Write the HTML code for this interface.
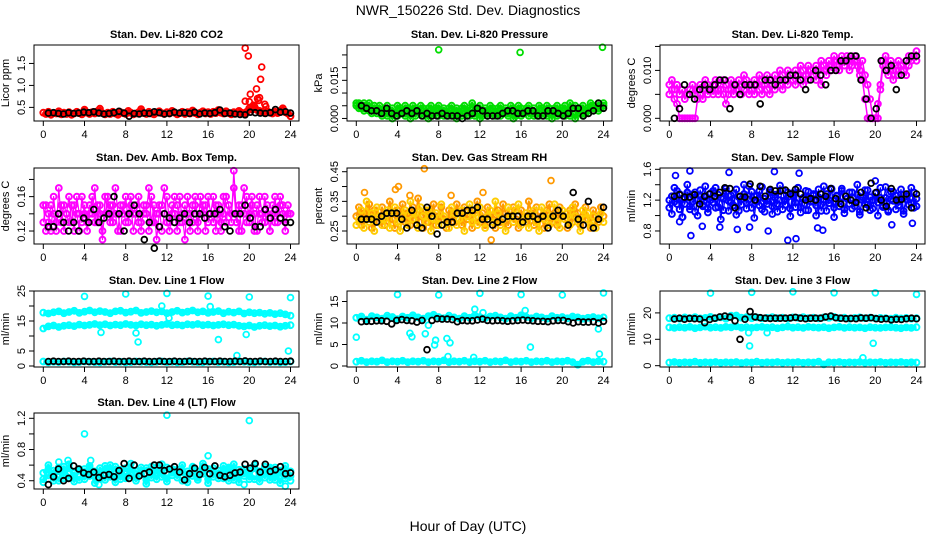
<!DOCTYPE html>
<html><head><meta charset="utf-8"><style>
body{margin:0;background:#fff;}
svg{display:block;font-family:"Liberation Sans",sans-serif;}
</style></head><body>
<svg id="chart" width="936" height="540" viewBox="0 0 936 540">
<text x="468" y="15" text-anchor="middle" font-size="14">NWR_150226  Std. Dev. Diagnostics</text>
<text x="468" y="531" text-anchor="middle" font-size="14">Hour of Day (UTC)</text>
</svg>
<script>
const xTicks = [0,4,8,12,16,20,24];

const co2Red = [0.38,0.35,0.40,0.33,0.37,0.36,0.41,0.34,0.38,0.35,0.39,0.33,0.36,0.40,0.37,0.34,0.45,0.38,0.35,0.39,0.36,0.41,0.47,0.37,0.34,0.38,0.35,0.40,0.36,0.33,0.39,0.37,0.35,0.42,0.38,0.34,0.36,0.39,0.46,0.37,0.35,0.40,0.36,0.34,0.38,0.41,0.37,0.35,0.39,0.36,0.42,0.38,0.34,0.37,0.40,0.35,0.39,0.36,0.43,0.37,0.34,0.38,0.41,0.36,0.39,0.35,0.40,0.37,0.44,0.38,0.36,0.41,0.37,0.34,0.39,0.36,0.42,0.38,0.35,0.40,0.48,0.45,0.52,0.44,0.42,0.39,0.37,0.41,0.38,0.36,0.40,0.37,0.42,0.48,0.39,0.36,0.30];
const co2SpikeX = [19.6,19.9,20.1,20.0,19.6,20.4,20.7,20.8,21.0,21.2,21.1,21.5,20.5,20.9,21.6];
const co2SpikeY = [1.85,1.67,0.80,0.63,0.64,0.55,0.92,0.70,0.72,1.42,1.14,0.57,0.48,0.66,0.52];
const co2Black = [0.37,0.38,0.36,0.35,0.38,0.36,0.37,0.39,0.38,0.40,0.37,0.35,0.36,0.38,0.41,0.37,0.30,0.36,0.35,0.37,0.36,0.40,0.38,0.35,0.36,0.39,0.37,0.38,0.36,0.39,0.35,0.37,0.36,0.38,0.44,0.36,0.37,0.35,0.34,0.33,0.39,0.38,0.37,0.36,0.38,0.45,0.39,0.40,0.37];

const presGreenA = [0.006,0.006,0.005,0.006,0.005,0.006,0.004,0.005,0.004,0.005,0.003,0.004,0.005,0.003,0.004,0.002,0.005,0.004,0.003,0.005,0.004,0.003,0.005,0.004,0.003,0.005,0.004,0.002,0.004,0.005,0.003,0.004,0.005,0.003,0.004,0.002,0.004,0.005,0.003,0.004,0.002,0.004,0.005,0.003,0.004,0.006,0.003,0.004,0.005,0.002,0.004,0.003,0.005,0.004,0.002,0.004,0.005,0.003,0.004,0.002,0.005,0.004,0.003,0.005,0.004,0.002,0.004,0.005,0.003,0.004,0.002,0.005,0.004,0.003,0.005,0.004,0.002,0.004,0.005,0.003,0.004,0.005,0.003,0.006,0.004,0.005,0.003,0.004,0.005,0.003,0.004,0.006,0.005,0.004,0.006,0.005,0.006];
const presGreenB = [0.005,0.004,0.004,0.003,0.004,0.003,0.002,0.003,0.002,0.003,0.001,0.002,0.001,0.002,0.000,0.002,0.001,0.003,0.002,0.001,0.002,0.000,0.002,0.001,0.003,0.002,0.001,0.002,0.000,0.001,0.002,0.003,0.001,0.002,0.001,0.002,0.001,0.003,0.001,0.000,0.002,0.001,0.002,0.003,0.001,0.002,0.001,0.002,0.000,0.001,0.002,0.001,0.003,0.002,0.001,0.002,0.001,0.002,0.003,0.001,0.002,0.000,0.001,0.002,0.001,0.002,0.003,0.001,0.002,0.001,0.002,0.001,0.003,0.002,0.001,0.002,0.000,0.002,0.001,0.003,0.002,0.001,0.002,0.001,0.002,0.000,0.003,0.002,0.001,0.002,0.003,0.004,0.003,0.004,0.003,0.004,0.005];
const presOutX = [8.0,15.9,23.9];
const presOutY = [0.027,0.026,0.028];
const presBlack = [0.005,0.004,0.003,0.003,0.002,0.004,0.002,0.001,0.002,0.003,0.002,0.003,0.001,0.002,0.001,0.001,0.002,0.001,0.001,0.001,0.000,0.001,0.002,0.004,0.003,0.001,0.001,0.001,0.002,0.003,0.003,0.002,0.002,0.003,0.003,0.001,0.001,0.003,0.003,0.002,0.001,0.002,0.004,0.004,0.001,0.002,0.003,0.006,0.004];

const tempMagA = [0.007,0.008,0.006,0.007,0.005,0.006,0.004,0.005,0.006,0.007,0.005,0.006,0.007,0.006,0.008,0.007,0.006,0.007,0.008,0.006,0.007,0.008,0.007,0.006,0.008,0.007,0.006,0.008,0.007,0.009,0.008,0.007,0.006,0.008,0.007,0.009,0.008,0.007,0.009,0.008,0.007,0.009,0.008,0.010,0.009,0.008,0.010,0.009,0.008,0.010,0.009,0.011,0.010,0.009,0.011,0.010,0.009,0.011,0.010,0.012,0.011,0.010,0.012,0.011,0.013,0.012,0.011,0.013,0.012,0.013,0.012,0.011,0.013,0.012,0.010,0.012,0.009,0.007,0.004,0.000,0.000,0.000,0.007,0.012,0.013,0.011,0.012,0.010,0.011,0.012,0.011,0.010,0.012,0.013,0.012,0.013,0.014];
const tempMagB = [0.005,0.006,0.004,0.003,0.000,0.000,0.000,0.000,0.000,0.000,0.000,0.004,0.005,0.004,0.006,0.005,0.006,0.005,0.006,0.005,0.006,0.005,0.003,0.005,0.006,0.005,0.007,0.006,0.005,0.006,0.007,0.005,0.006,0.005,0.007,0.006,0.005,0.007,0.006,0.005,0.007,0.006,0.008,0.007,0.006,0.008,0.007,0.009,0.008,0.007,0.009,0.008,0.007,0.009,0.008,0.010,0.009,0.008,0.010,0.007,0.010,0.009,0.011,0.010,0.012,0.011,0.010,0.012,0.011,0.012,0.010,0.011,0.012,0.011,0.009,0.008,0.004,0.000,0.000,0.000,0.000,0.003,0.006,0.011,0.010,0.009,0.010,0.008,0.010,0.009,0.011,0.010,0.009,0.011,0.012,0.013,0.012];
const tempBlack = [0.000,0.002,0.007,0.005,0.004,0.006,0.007,0.006,0.007,0.008,0.008,0.002,0.007,0.005,0.007,0.007,0.007,0.003,0.008,0.008,0.007,0.008,0.008,0.009,0.009,0.008,0.006,0.008,0.010,0.009,0.007,0.010,0.010,0.012,0.012,0.013,0.013,0.008,0.004,0.000,0.002,0.012,0.010,0.011,0.006,0.009,0.012,0.013,0.013];

const ambMagA = [0.13,0.15,0.14,0.12,0.16,0.13,0.14,0.15,0.12,0.14,0.16,0.13,0.15,0.14,0.12,0.16,0.14,0.13,0.15,0.14,0.17,0.13,0.15,0.12,0.14,0.16,0.13,0.15,0.14,0.12,0.15,0.14,0.16,0.13,0.15,0.12,0.14,0.16,0.13,0.14,0.15,0.12,0.16,0.13,0.14,0.15,0.12,0.14,0.16,0.13,0.15,0.14,0.12,0.16,0.13,0.15,0.14,0.12,0.15,0.16,0.13,0.14,0.15,0.12,0.16,0.14,0.13,0.15,0.14,0.12,0.16,0.13,0.15,0.14,0.17,0.13,0.15,0.12,0.14,0.16,0.13,0.15,0.14,0.12,0.16,0.14,0.13,0.15,0.12,0.14,0.16,0.13,0.15,0.14,0.12,0.15,0.14];
const ambMagB = [0.15,0.12,0.13,0.15,0.14,0.12,0.17,0.13,0.15,0.14,0.13,0.15,0.12,0.16,0.14,0.13,0.15,0.12,0.14,0.16,0.13,0.15,0.14,0.11,0.16,0.14,0.15,0.13,0.17,0.14,0.12,0.15,0.13,0.14,0.16,0.14,0.15,0.13,0.12,0.15,0.14,0.17,0.13,0.15,0.11,0.14,0.15,0.17,0.13,0.12,0.14,0.16,0.15,0.13,0.14,0.11,0.16,0.14,0.13,0.15,0.12,0.16,0.14,0.15,0.13,0.14,0.16,0.12,0.15,0.13,0.14,0.16,0.15,0.13,0.19,0.14,0.12,0.15,0.17,0.13,0.14,0.16,0.12,0.15,0.14,0.13,0.16,0.14,0.12,0.15,0.13,0.14,0.16,0.15,0.13,0.14,0.14];
const ambBlack = [0.125,0.125,0.14,0.13,0.12,0.13,0.12,0.135,0.13,0.145,0.13,0.135,0.14,0.16,0.14,0.12,0.14,0.15,0.14,0.11,0.13,0.10,0.125,0.14,0.135,0.13,0.135,0.14,0.13,0.14,0.14,0.135,0.14,0.14,0.145,0.125,0.12,0.14,0.14,0.15,0.135,0.125,0.125,0.145,0.135,0.145,0.135,0.13,0.13];

const rhOrangeA = [0.30,0.33,0.27,0.31,0.29,0.34,0.26,0.32,0.30,0.28,0.33,0.27,0.31,0.35,0.29,0.26,0.32,0.30,0.34,0.28,0.31,0.27,0.33,0.29,0.36,0.30,0.26,0.32,0.28,0.31,0.34,0.27,0.30,0.33,0.29,0.26,0.32,0.30,0.28,0.34,0.31,0.27,0.33,0.29,0.30,0.26,0.32,0.35,0.28,0.31,0.27,0.33,0.30,0.29,0.26,0.32,0.28,0.34,0.31,0.27,0.30,0.33,0.29,0.26,0.32,0.30,0.28,0.35,0.31,0.27,0.33,0.29,0.30,0.26,0.32,0.34,0.28,0.31,0.27,0.33,0.30,0.29,0.26,0.32,0.28,0.34,0.31,0.27,0.30,0.33,0.29,0.26,0.32,0.30,0.28,0.33,0.30];
const rhOrangeB = [0.27,0.29,0.32,0.26,0.35,0.28,0.31,0.25,0.33,0.30,0.27,0.29,0.32,0.26,0.31,0.33,0.28,0.25,0.30,0.32,0.27,0.35,0.29,0.31,0.26,0.33,0.30,0.28,0.32,0.25,0.29,0.31,0.27,0.34,0.30,0.28,0.26,0.33,0.31,0.27,0.29,0.32,0.25,0.30,0.34,0.28,0.31,0.27,0.33,0.29,0.26,0.30,0.32,0.28,0.35,0.31,0.27,0.29,0.25,0.33,0.30,0.28,0.32,0.34,0.27,0.29,0.31,0.26,0.30,0.32,0.28,0.25,0.33,0.29,0.31,0.27,0.30,0.34,0.28,0.26,0.32,0.29,0.31,0.27,0.33,0.30,0.28,0.25,0.32,0.29,0.31,0.27,0.30,0.26,0.29,0.31,0.28];
const rhOutX = [0.8,3.8,4.1,6.6,9.2,13.1,18.9,12.3,5.2];
const rhOutY = [0.38,0.39,0.40,0.46,0.37,0.22,0.42,0.38,0.37];
const rhBlack = [0.29,0.29,0.29,0.28,0.30,0.31,0.31,0.31,0.29,0.26,0.32,0.27,0.26,0.33,0.30,0.24,0.27,0.28,0.28,0.31,0.31,0.32,0.32,0.33,0.29,0.29,0.27,0.28,0.29,0.30,0.30,0.30,0.28,0.30,0.30,0.29,0.30,0.26,0.30,0.32,0.30,0.27,0.38,0.29,0.27,0.35,0.26,0.29,0.33];

const flowBlueA = [1.10,1.25,1.18,1.32,1.08,1.22,1.15,1.30,1.12,1.27,1.05,1.20,1.33,1.14,1.24,1.09,1.29,1.17,1.36,1.11,1.23,1.07,1.31,1.19,1.26,1.13,1.34,1.06,1.21,1.28,1.16,1.38,1.10,1.25,1.18,1.32,1.08,1.22,1.15,1.30,1.12,1.27,1.05,1.20,1.33,1.14,1.24,1.09,1.29,1.17,1.36,1.11,1.23,1.07,1.31,1.19,1.26,1.13,1.34,1.06,1.21,1.28,1.16,1.35,1.10,1.25,1.18,1.32,1.08,1.22,1.15,1.30,1.12,1.27,1.05,1.20,1.33,1.14,1.24,1.09,1.29,1.17,1.36,1.11,1.23,1.07,1.31,1.19,1.26,1.13,1.34,1.06,1.21,1.28,1.16,1.30,1.12];
const flowBlueB = [1.20,1.02,1.36,1.15,1.28,0.98,1.22,1.40,1.08,1.18,1.30,1.00,1.25,1.12,1.38,1.04,1.20,1.32,1.10,1.27,0.95,1.22,1.35,1.06,1.17,1.29,1.01,1.24,1.14,1.40,1.09,1.21,1.31,0.97,1.26,1.13,1.37,1.05,1.19,1.33,1.02,1.23,1.15,1.39,1.08,1.20,1.30,0.99,1.25,1.11,1.36,1.04,1.21,1.32,1.07,1.18,1.28,1.00,1.24,1.14,1.38,1.06,1.20,1.34,0.98,1.26,1.12,1.35,1.03,1.22,1.30,1.09,1.17,1.40,1.01,1.24,1.15,1.33,1.07,1.20,1.29,1.00,1.23,1.13,1.37,1.05,1.21,1.31,1.08,1.18,1.27,1.02,1.25,1.14,1.36,1.10,1.22];
const flowOutX = [0.6,1.0,2.0,2.1,3.2,4.9,5.8,6.6,7.8,9.6,10.2,11.5,12.3,12.6,14.4,14.9,21.6,23.6,20.0,1.3];
const flowOutY = [1.52,0.92,1.58,0.74,0.86,0.85,1.56,0.82,0.85,0.80,1.57,0.68,0.70,1.55,0.84,0.81,0.88,0.90,1.45,0.98];
const flowBlack = [1.25,1.27,1.24,1.24,1.27,1.15,1.25,1.28,1.25,1.30,1.36,1.35,1.10,1.25,1.24,1.41,1.20,1.38,1.25,1.34,1.32,1.32,1.33,1.28,1.34,1.28,1.20,1.22,1.20,1.28,1.25,1.35,1.22,1.15,1.25,1.20,1.17,1.30,1.10,1.42,1.30,1.20,1.12,1.35,1.20,1.21,1.28,1.10,1.28];

const l1CyanHigh = [17.8,17.5,17.9,18.2,17.6,18.0,18.4,17.7,18.1,18.5,17.9,18.3,18.0,17.6,18.2,18.4,17.8,18.1,18.5,17.7,18.0,18.3,17.9,18.2,17.6,18.0,18.4,17.8,18.1,18.5,17.9,18.2,17.7,18.0,18.3,17.6,18.1,17.8,18.2,17.5,17.9,17.6,17.8,17.4,17.7,17.3,17.6,17.2,16.8];
const l1CyanMid = [12.5,13.2,13.5,13.0,13.4,13.6,13.3,13.8,13.5,13.7,14.0,13.6,13.9,13.5,13.8,13.6,14.0,13.7,13.5,13.9,13.6,13.8,13.4,13.7,14.0,13.6,13.8,13.5,13.9,13.7,14.0,13.6,13.8,13.5,13.7,13.9,13.6,13.8,13.4,13.2,13.5,13.0,13.4,13.6,13.3,13.5,13.1,13.4,13.6];
const l1CyanLow = [1.5,1.2,1.4,1.3,1.5,1.4,1.2,1.3,1.5,1.4,1.3,1.2,1.4,1.5,1.3,1.4,1.2,1.3,1.5,1.4,1.3,1.2,1.4,1.5,1.3,1.4,1.2,1.3,1.5,1.4,1.3,1.2,1.4,1.5,1.3,1.4,1.2,1.3,1.5,1.4,1.3,1.2,1.4,1.5,1.3,1.4,1.2,1.3,1.5];
const l1OutX = [4.0,8.0,12.0,16.0,20.0,24.0,5.6,9.0,9.2,18.8,19.7,17.0,23.8,11.5,16.2,12.2];
const l1OutY = [23.2,24.0,24.2,23.3,23.0,22.8,11.2,11.0,8.0,3.5,10.5,8.8,5.0,20.0,19.8,16.0];
const l1Black = [1.5,1.6,1.5,1.5,1.6,1.5,1.5,1.6,1.5,1.5,1.6,1.5,1.5,1.6,1.5,1.5,1.6,1.5,1.5,1.6,1.5,1.5,1.6,1.5,1.5,1.6,1.5,1.5,1.6,1.5,1.5,1.6,1.5,1.5,1.6,1.5,1.5,1.6,1.5,1.7,1.5,1.5,1.6,1.5,1.5,1.6,1.5,1.5,1.6];

const l2CyanHigh = [11.2,11.5,10.8,11.6,11.3,11.0,11.7,11.4,10.9,11.5,11.2,11.8,11.3,11.0,11.6,11.9,11.4,11.1,11.7,11.3,11.0,11.6,11.2,11.8,11.4,11.1,11.5,11.7,11.3,11.0,11.6,11.2,11.8,11.4,11.1,11.5,11.3,11.0,11.6,11.2,11.4,11.1,11.5,11.3,11.0,11.2,11.4,11.1,11.3];
const l2CyanLow = [1.0,1.2,0.9,1.1,1.0,1.3,0.9,1.1,1.0,1.2,0.9,1.1,1.0,1.2,0.9,1.1,1.0,1.3,0.9,1.1,1.0,1.2,0.9,1.1,1.0,1.2,0.9,1.1,1.0,1.3,0.9,1.1,1.0,1.2,0.9,1.1,1.0,1.2,0.9,1.1,1.0,1.2,0.9,0.3,1.0,1.2,0.9,1.1,1.0];
const l2OutX = [0,4.0,8.0,12.0,16.0,20.0,24.0,5.2,5.4,6.7,7.6,7.7,8.8,9.1,8.9,11.5,11.4,16.4,16.9,23.5,23.6,7.0,12.3];
const l2OutY = [6.7,16.6,16.5,16.9,16.6,16.5,17.0,7.6,6.8,7.5,4.9,6.0,6.4,5.4,2.2,13.2,2.0,12.9,4.4,8.6,2.8,9.5,12.4];
const l2Black = [10.3,10.4,10.4,10.5,10.5,10.4,9.8,10.6,10.8,10.6,10.5,10.2,10.6,3.8,10.6,11.0,10.9,10.9,10.8,10.3,10.6,10.5,10.5,10.7,10.9,10.6,10.5,10.6,10.5,10.4,10.5,10.6,10.7,10.6,10.5,10.4,10.4,10.3,10.5,10.6,10.6,10.3,10.0,10.3,10.2,10.2,10.3,10.0,10.4];

const l3CyanHigh = [18.0,18.2,17.8,18.3,18.0,18.4,17.9,18.1,18.5,18.0,18.3,17.8,18.6,19.0,18.2,18.4,18.0,18.3,17.9,18.1,18.4,18.0,18.2,17.8,18.3,18.1,18.4,18.0,18.2,17.9,18.3,18.1,18.5,18.0,18.2,17.8,18.1,18.3,18.0,18.2,17.9,18.1,18.0,17.8,18.2,17.9,18.1,17.8,18.0];
const l3CyanMid = [14.5,14.3,14.6,14.4,14.7,14.2,14.5,14.8,14.4,14.6,14.3,14.7,14.5,14.9,14.4,14.6,14.3,14.5,14.7,14.4,14.6,14.2,14.5,14.8,14.4,14.6,14.3,14.7,14.5,14.4,14.6,14.2,14.5,14.7,14.3,14.6,14.4,14.5,14.2,14.6,14.4,14.3,14.5,14.6,14.4,14.2,14.5,14.3,14.6];
const l3CyanLow = [1.2,1.4,1.1,1.3,1.2,1.5,1.1,1.3,1.2,1.4,1.1,1.3,1.2,1.4,1.0,1.3,1.2,1.5,1.1,1.3,1.2,1.4,1.1,1.3,1.2,1.4,1.1,1.3,1.2,1.5,0.5,1.3,1.2,1.4,1.1,1.3,1.2,1.4,1.1,1.3,1.2,1.4,1.1,1.3,1.2,1.4,1.1,1.3,1.2];
const l3OutX = [4.0,8.0,12.0,16.0,20.0,24.0,7.7,7.8,9.5,19.8,18.8,6.0];
const l3OutY = [27.5,27.8,28.0,27.6,27.6,27.0,12.5,7.5,12.5,8.5,3.0,19.0];
const l3Black = [17.7,18.0,17.6,17.9,17.8,17.7,16.3,17.5,18.0,18.5,18.8,18.4,17.0,10.0,17.6,20.5,18.5,18.2,18.0,17.9,18.0,18.0,18.0,18.1,18.3,18.0,17.8,18.0,18.0,18.0,18.5,18.8,18.2,18.0,17.8,17.9,17.8,18.1,18.0,18.2,17.8,17.6,17.8,17.4,17.6,17.5,17.8,18.0,17.8];

const l4CyanA = [0.50,0.55,0.45,0.52,0.48,0.56,0.44,0.53,0.49,0.57,0.46,0.51,0.54,0.47,0.58,0.50,0.45,0.55,0.52,0.48,0.56,0.44,0.53,0.50,0.57,0.47,0.54,0.51,0.46,0.58,0.52,0.49,0.55,0.45,0.53,0.50,0.57,0.48,0.54,0.51,0.46,0.56,0.52,0.49,0.55,0.47,0.53,0.50,0.52];
const l4CyanB = [0.42,0.47,0.53,0.40,0.58,0.44,0.50,0.41,0.55,0.46,0.52,0.43,0.59,0.45,0.49,0.42,0.56,0.47,0.44,0.53,0.41,0.50,0.57,0.45,0.43,0.54,0.48,0.40,0.52,0.46,0.44,0.58,0.42,0.51,0.47,0.43,0.55,0.41,0.49,0.46,0.53,0.42,0.48,0.44,0.57,0.41,0.50,0.43,0.46];
const l4CyanC = [0.38,0.60,0.40,0.57,0.43,0.61,0.39,0.55,0.42,0.59,0.37,0.56,0.41,0.60,0.38,0.54,0.43,0.62,0.40,0.57,0.36,0.58,0.42,0.61,0.39,0.55,0.44,0.60,0.38,0.57,0.41,0.62,0.37,0.56,0.43,0.59,0.40,0.61,0.38,0.55,0.42,0.60,0.39,0.58,0.41,0.57,0.37,0.59,0.40];
const l4OutX = [4.0,12.0,20.0,1.5,2.4,4.6,16.0,23.5,5.4,19.5];
const l4OutY = [1.0,1.24,1.17,0.64,0.66,0.66,0.72,0.33,0.35,0.35];
const l4Black = [0.35,0.45,0.55,0.40,0.43,0.59,0.55,0.50,0.48,0.51,0.44,0.47,0.48,0.45,0.53,0.62,0.43,0.60,0.46,0.49,0.51,0.60,0.60,0.53,0.55,0.58,0.51,0.41,0.49,0.56,0.48,0.57,0.49,0.59,0.47,0.45,0.47,0.50,0.51,0.61,0.56,0.62,0.51,0.61,0.52,0.54,0.58,0.49,0.50];

const NS='http://www.w3.org/2000/svg';
const svg=document.getElementById('chart');
function mk(tag,attrs,parent){const e=document.createElementNS(NS,tag);for(const k in attrs)e.setAttribute(k,attrs[k]);(parent||svg).appendChild(e);return e;}

const COLS=[34,347,660], ROWS=[45,168,291,413], W=265, H=76;
const panels=[
 {id:'co2',title:'Stan. Dev. Li-820 CO2',yl:'Licor ppm',c:0,r:0,dom:[0.19,1.92],ticks:[0.5,1.0,1.5],labels:['0.5','1.0','1.5'],bw:4,
  dense:[[co2Red,'#ff0000']],out:[[co2SpikeX,co2SpikeY,'#ff0000']],black:co2Black},
 {id:'pressure',title:'Stan. Dev. Li-820 Pressure',yl:'kPa',c:1,r:0,dom:[-0.001,0.0289],ticks:[0,0.005,0.01,0.015,0.02,0.025],labels:['0.000','','','0.015','',''],bw:3,
  dense:[[presGreenA,'#00dd00'],[presGreenB,'#00dd00']],out:[[presOutX,presOutY,'#00dd00']],black:presBlack},
 {id:'temp',title:'Stan. Dev. Li-820 Temp.',yl:'degrees C',c:2,r:0,dom:[-0.00056,0.0153],ticks:[0,0.005,0.01,0.015],labels:['0.000','','0.010',''],bw:1.5,
  dense:[[tempMagA,'#ff00ff'],[tempMagB,'#ff00ff']],out:[],black:tempBlack},
 {id:'ambbox',title:'Stan. Dev. Amb. Box Temp.',yl:'degrees C',c:0,r:1,dom:[0.1049,0.1933],ticks:[0.12,0.14,0.16,0.18],labels:['0.12','','0.16',''],bw:1.2,
  dense:[[ambMagA,'#ff00ff'],[ambMagB,'#ff00ff']],out:[],black:ambBlack},
 {id:'rh',title:'Stan. Dev. Gas Stream RH',yl:'percent',c:1,r:1,dom:[0.2062,0.4625],ticks:[0.25,0.3,0.35,0.4,0.45],labels:['0.25','','0.35','','0.45'],bw:2,
  dense:[[rhOrangeA,'#ff9900'],[rhOrangeB,'#ffcc00']],out:[[rhOutX,rhOutY,'#ff9900']],black:rhBlack},
 {id:'sampleflow',title:'Stan. Dev. Sample Flow',yl:'ml/min',c:2,r:1,dom:[0.631,1.617],ticks:[0.8,1.0,1.2,1.4,1.6],labels:['0.8','','1.2','','1.6'],bw:1.2,
  dense:[[flowBlueA,'#0000ff'],[flowBlueB,'#0000ff']],out:[[flowOutX,flowOutY,'#0000ff']],black:flowBlack},
 {id:'line1',title:'Stan. Dev. Line 1 Flow',yl:'ml/min',c:0,r:2,dom:[-0.33,25.0],ticks:[0,5,10,15,20,25],labels:['0','5','','15','','25'],bw:4,
  dense:[[l1CyanHigh,'#00ffff'],[l1CyanMid,'#00ffff'],[l1CyanLow,'#00ffff']],out:[[l1OutX,l1OutY,'#00ffff']],black:l1Black},
 {id:'line2',title:'Stan. Dev. Line 2 Flow',yl:'ml/min',c:1,r:2,dom:[-0.23,17.44],ticks:[0,5,10,15],labels:['0','5','10','15'],bw:4,
  dense:[[l2CyanHigh,'#00ffff'],[l2CyanLow,'#00ffff']],out:[[l2OutX,l2OutY,'#00ffff']],black:l2Black},
 {id:'line3',title:'Stan. Dev. Line 3 Flow',yl:'ml/min',c:2,r:2,dom:[-0.5,28.3],ticks:[0,10,20],labels:['0','10','20'],bw:4,
  dense:[[l3CyanHigh,'#00ffff'],[l3CyanMid,'#00ffff'],[l3CyanLow,'#00ffff']],out:[[l3OutX,l3OutY,'#00ffff']],black:l3Black},
 {id:'line4',title:'Stan. Dev. Line 4 (LT) Flow',yl:'ml/min',c:0,r:3,dom:[0.294,1.268],ticks:[0.4,0.6,0.8,1.0,1.2],labels:['0.4','','0.8','','1.2'],bw:3,
  dense:[[l4CyanA,'#00ffff'],[l4CyanB,'#00ffff'],[l4CyanC,'#00ffff']],out:[[l4OutX,l4OutY,'#00ffff']],black:l4Black}
];

panels.forEach(p=>{
  const L=COLS[p.c], T=ROWS[p.r];
  const xs=h=>L+9.3+h*(247.2/24);
  const ys=v=>T+H-(v-p.dom[0])/(p.dom[1]-p.dom[0])*H;
  const g=mk('g',{});
  
  
  const t=mk('text',{x:L+W/2,y:T-7,'text-anchor':'middle','font-size':'11','font-weight':'bold'},g);
  t.textContent=p.title;
  
  
  const pts=mk('g',{fill:'none'},g);
  
  
  function dot(x,y,col,sw){
    const c=mk('circle',{cx:x.toFixed(1),cy:y.toFixed(1),r:2.9,stroke:col,'stroke-width':sw},pts);
    
    
  }
  p.dense.forEach(([arr,col])=>{
    const n=arr.length;
    const d=arr.map((v,i)=>(i?'L':'M')+xs(i*24/(n-1)).toFixed(1)+' '+ys(v).toFixed(1)).join(' ');
    const band=mk('path',{d:d,stroke:col,'stroke-width':p.bw,fill:'none','stroke-linejoin':'round'},pts);
    
    
  });
  p.dense.forEach(([arr,col])=>{const n=arr.length;arr.forEach((v,i)=>dot(xs(i*24/(n-1)),ys(v),col,2));});
  p.out.forEach(([ax,ay,col])=>ax.forEach((h,i)=>dot(xs(h),ys(ay[i]),col,1.8)));
  {const n=p.black.length;p.black.forEach((v,i)=>dot(xs(0.5+i*23.5/(n-1)),ys(v),'#000',1.8));}
  const box=mk('rect',{x:L,y:T,width:W,height:H,fill:'none',stroke:'#000','stroke-width':1},g);
  
  
  const xa=mk('g',{'font-size':'11','text-anchor':'middle'},g);
  
  
  mk('line',{x1:xs(0),x2:xs(24),y1:T+H,y2:T+H,stroke:'#000'},xa);
  xTicks.forEach(h=>{
    mk('line',{x1:xs(h),x2:xs(h),y1:T+H,y2:T+H+5,stroke:'#000'},xa);
    const tl=mk('text',{x:xs(h),y:T+H+17},xa);tl.textContent=h;
    
    
  });
  const ya=mk('g',{'font-size':'11','text-anchor':'middle'},g);
  
  
  mk('line',{x1:L,x2:L,y1:ys(p.ticks[0]),y2:ys(p.ticks[p.ticks.length-1]),stroke:'#000'},ya);
  p.ticks.forEach((v,i)=>{
    const y=ys(v);
    mk('line',{x1:L-5,x2:L,y1:y,y2:y,stroke:'#000'},ya);
    if(p.labels[i]){const tl=mk('text',{x:L-9,y:y,transform:`rotate(-90 ${L-9} ${y})`},ya);tl.textContent=p.labels[i];
      
      }
  });
  const yt=mk('text',{x:L-25,y:T+H/2,transform:`rotate(-90 ${L-25} ${T+H/2})`,'font-size':'11','text-anchor':'middle'},g);
  yt.textContent=p.yl;
  
  
});
</script>
</body></html>
